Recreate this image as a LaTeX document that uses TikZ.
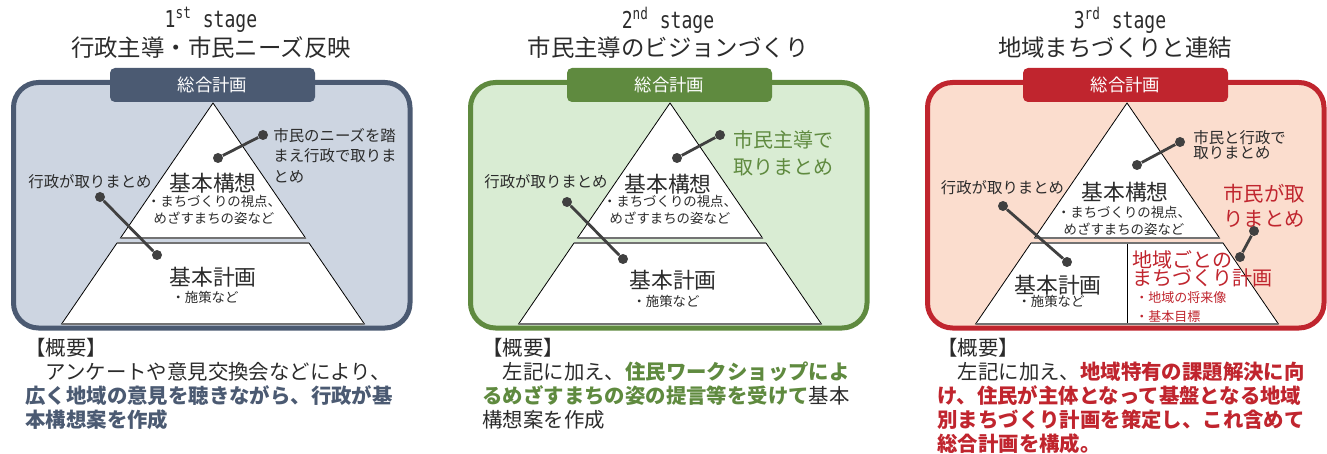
\documentclass[tikz,border=0pt]{standalone}
\usepackage{fontspec}
\setmainfont{Noto Sans CJK JP}
\newfontfamily\stagefont{DejaVu Sans Mono}[FakeStretch=0.78]

\definecolor{slate}{HTML}{4B5A72}
\definecolor{slatebg}{HTML}{CDD5E1}
\definecolor{leaf}{HTML}{5F8A3F}
\definecolor{leafbg}{HTML}{D9ECD3}
\definecolor{brick}{HTML}{C0252E}
\definecolor{brickbg}{HTML}{FBDDCE}
\definecolor{txt}{HTML}{2B2B2B}
\definecolor{pin}{HTML}{404040}

\tikzset{
  frame/.style={line width=2.5pt, rounded corners=12.5pt},
  tabbox/.style={rounded corners=2.5pt, minimum width=102.5pt, minimum height=17pt,
    text=white, font=\fontsize{8.7}{10}\selectfont},
  layer/.style={draw=black, fill=white, line width=0.4pt},
  floorline/.style={draw=black!55, line width=1pt},
  dot/.style={circle, fill=pin, minimum size=5pt},
  pinline/.style={draw=pin, line width=1.4pt},
  stagetxt/.style={font=\stagefont\fontsize{11.6}{13}\selectfont},
  titletxt/.style={font=\fontsize{11.7}{14}\selectfont},
  bigtxt/.style={font=\fontsize{10.9}{13}\selectfont},
  subtxt/.style={font=\fontsize{6.7}{8.5}\selectfont, align=center},
  labeltxt/.style={font=\fontsize{7.7}{10.25}\selectfont, align=left, anchor=west},
  accenttxt/.style={font=\fontsize{10}{13.5}\selectfont, align=left, anchor=west},
  desctxt/.style={font=\fontsize{10.2}{12}\selectfont, align=left, anchor=west},
}

\begin{document}
\lineskiplimit=-20pt
\begin{tikzpicture}[x=0.5pt, y=-0.5pt, every node/.style={inner sep=0pt, text=txt}]
\useasboundingbox (0,0) rectangle (1327,454);

% 1st stage
\begin{scope}
  \node[stagetxt] (st1) at (211,20) {1\textsuperscript{st} stage};
  \node[titletxt] (ti1) at (211,48) {行政主導・市民ニーズ反映};
  \draw[frame, draw=slate, fill=slatebg] (13.5,82.5) rectangle (410,328);
  \node[tabbox, fill=slate] (tab1) at (212.5,85) {総合計画};

  \draw[layer] (213,103) -- (120.5,238) -- (305.5,238) -- cycle;
  \draw[layer] (117,243) -- (309,243) -- (364.4,324) -- (61.6,324) -- cycle;
  \draw[floorline] (120.5,238) -- (305.5,238);
  \draw[floorline] (117,243) -- (309,243);
  \draw[floorline] (61.6,324) -- (364.4,324);

  \node[bigtxt] (kk1) at (213,183) {基本構想};
  \node[subtxt] (kd1) at (214,209.5) {・まちづくりの視点、\\めざすまちの姿など};
  \node[bigtxt] (kp1) at (213,277) {基本計画};
  \node[subtxt] (kq1) at (205,297) {・施策など};

  \node[labeltxt, anchor=center] (lg1) at (90,182) {行政が取りまとめ};
  \node[labeltxt] (rg1) at (273,155.5) {市民のニーズを踏\\まえ行政で取りま\\とめ};

  \node[dot] (la1) at (100,197) {};
  \node[dot] (lb1) at (157,255) {};
  \draw[pinline] (la1) -- (lb1);
  \node[dot] (ra1) at (263,135) {};
  \node[dot] (rb1) at (218,158) {};
  \draw[pinline] (ra1) -- (rb1);

  \node[desctxt] (ds1) at (25,384) {【概要】\\　アンケートや意見交換会などにより、\\{\color{slate}\bfseries 広く地域の意見を聴きながら、行政が基}\\{\color{slate}\bfseries 本構想案を作成}};
\end{scope}

% 2nd stage
\begin{scope}[shift={(457,0)}]
  \node[stagetxt] (st2) at (211,20) {2\textsuperscript{nd} stage};
  \node[titletxt] (ti2) at (211,48) {市民主導のビジョンづくり};
  \draw[frame, draw=leaf, fill=leafbg] (13.5,82.5) rectangle (410,328);
  \node[tabbox, fill=leaf] (tab2) at (212.5,85) {総合計画};

  \draw[layer] (213,103) -- (120.5,238) -- (305.5,238) -- cycle;
  \draw[layer] (117,243) -- (309,243) -- (364.4,324) -- (61.6,324) -- cycle;
  \draw[floorline] (120.5,238) -- (305.5,238);
  \draw[floorline] (117,243) -- (309,243);
  \draw[floorline] (61.6,324) -- (364.4,324);

  \node[bigtxt] (kk2) at (211,184) {基本構想};
  \node[subtxt] (kd2) at (213,209.5) {・まちづくりの視点、\\めざすまちの姿など};
  \node[bigtxt] (kp2) at (216,280) {基本計画};
  \node[subtxt] (kq2) at (209,301) {・施策など};

  \node[labeltxt, anchor=center] (lg2) at (89,182) {行政が取りまとめ};
  \node[accenttxt, text=leaf] (rg2) at (276,153.5) {市民主導で\\取りまとめ};

  \node[dot] (la2) at (110,202) {};
  \node[dot] (lb2) at (166,259) {};
  \draw[pinline] (la2) -- (lb2);
  \node[dot] (ra2) at (263,135) {};
  \node[dot] (rb2) at (220,158) {};
  \draw[pinline] (ra2) -- (rb2);

  \node[desctxt] (ds2) at (25,384) {【概要】\\　左記に加え、{\color{leaf}\bfseries 住民ワークショップによ}\\{\color{leaf}\bfseries るめざすまちの姿の提言等を受けて}基本\\構想案を作成};
\end{scope}

% 3rd stage
\begin{scope}[shift={(914,0)}]
  \node[stagetxt] (st3) at (206,20) {3\textsuperscript{rd} stage};
  \node[titletxt] (ti3) at (201,48) {地域まちづくりと連結};
  \draw[frame, draw=brick, fill=brickbg] (13.5,82.5) rectangle (410,328);
  \node[tabbox, fill=brick] (tab3) at (211.5,85) {総合計画};

  \draw[layer] (213,103) -- (120.5,238) -- (305.5,238) -- cycle;
  \draw[layer] (117,243) -- (309,243) -- (364.4,324) -- (61.6,324) -- cycle;
  \draw[layer] (213,243) -- (213,324);
  \draw[floorline] (120.5,238) -- (305.5,238);
  \draw[floorline] (117,243) -- (309,243);
  \draw[floorline] (61.6,324) -- (364.4,324);

  \node[bigtxt] (kk3) at (211,192) {基本構想};
  \node[subtxt] (kd3) at (210,221) {・まちづくりの視点、\\めざすまちの姿など};
  \node[bigtxt] (kp3) at (144,285) {基本計画};
  \node[subtxt] (kq3) at (137,301) {・施策など};
  \node[accenttxt, text=brick, font=\fontsize{10}{9}\selectfont] (ch3) at (218,269) {地域ごとの\\まちづくり計画};
  \node[labeltxt, text=brick, font=\fontsize{6.5}{9.5}\selectfont] (cs3) at (221,307.5) {・地域の将来像\\・基本目標};

  \node[labeltxt, anchor=center] (lg3) at (88.5,188) {行政が取りまとめ};
  \node[labeltxt, font=\fontsize{7.7}{7.6}\selectfont] (rg3) at (279,145) {市民と行政で\\取りまとめ};
  \node[accenttxt, text=brick, font=\fontsize{10.2}{12.5}\selectfont] (rc3) at (309,205.5) {市民が取\\りまとめ};

  \node[dot] (la3) at (89,206) {};
  \node[dot] (lb3) at (153,262) {};
  \draw[pinline] (la3) -- (lb3);
  \node[dot] (ra3) at (266,142) {};
  \node[dot] (rb3) at (223,165) {};
  \draw[pinline] (ra3) -- (rb3);
  \node[dot] (ca3) at (340,231) {};
  \node[dot] (cb3) at (326,257) {};
  \draw[pinline] (ca3) -- (cb3);

  \node[desctxt] (ds3) at (23,396) {【概要】\\　左記に加え、{\color{brick}\bfseries 地域特有の課題解決に向}\\{\color{brick}\bfseries け、住民が主体となって基盤となる地域}\\{\color{brick}\bfseries 別まちづくり計画を策定し、これ含めて}\\{\color{brick}\bfseries 総合計画を構成。}};
\end{scope}
\end{tikzpicture}
\end{document}
